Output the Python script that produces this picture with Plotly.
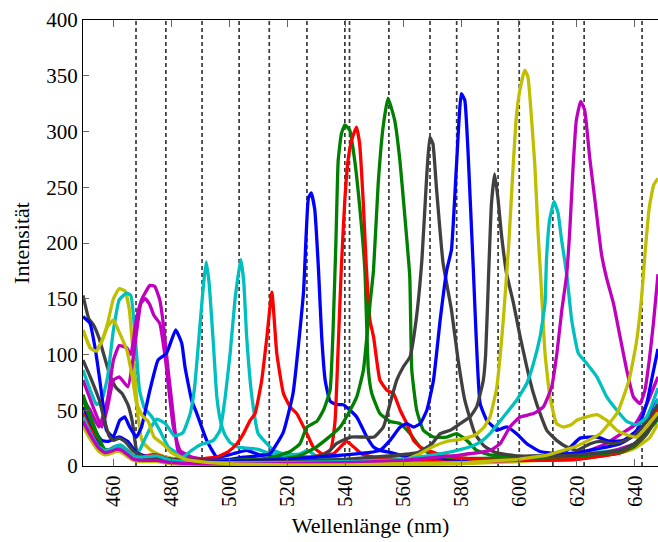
import plotly.graph_objects as go

# ---------------- data ----------------
dash_wavelengths = [467.8, 478.1, 490.6, 503.4, 513.8, 526.8, 539.9, 541.5, 555.1,
                    569.3, 578.5, 592.8, 600.1, 611.7, 622.5, 642.5]

x_ticks = [460, 480, 500, 520, 540, 560, 580, 600, 620, 640]
y_ticks = [0, 50, 100, 150, 200, 250, 300, 350, 400]

gray_450_x = [449.5, 451.5, 453, 455, 457, 459, 461, 463, 465, 466.5, 468, 470, 473, 476, 480, 490, 500, 520, 540, 560, 580, 600, 620, 630, 640, 644, 648]
gray_450_y = [153, 132, 127, 115, 97, 80, 70, 65, 55, 40, 14, 8, 9, 9, 5, 4, 3, 3, 3, 4, 5, 6, 9, 12, 18, 28, 45]

yellow_462_x = [449.5, 452, 454, 456, 458, 460, 462, 464, 465.5, 467, 468.5, 470, 473, 476, 480, 485, 490, 500, 520, 540, 560, 580, 600, 620, 635, 640, 645, 648]
yellow_462_y = [122, 106, 103, 112, 128, 150, 159, 157, 140, 95, 45, 22, 14, 10, 7, 5, 3, 2, 1, 1, 1, 2, 4, 7, 12, 16, 25, 38]

cyan_465_x = [449.5, 452, 454.2, 456, 458, 460, 462, 464.5, 466, 467.8, 469, 470.7, 473, 476, 479, 483, 490, 500, 520, 540, 560, 580, 600, 620, 635, 640, 644, 648]
cyan_465_y = [86, 68, 55, 59, 80, 122, 149, 155, 153, 107, 68, 52, 45, 32, 17, 10, 6, 5, 4, 4, 4, 5, 7, 10, 15, 20, 30, 50]

magenta_471_x = [449.5, 453, 456, 458, 460, 462, 465, 467, 469.5, 471, 472.5, 474, 476, 478, 480.7, 483, 487, 495, 520, 560, 600, 620, 630, 640, 644, 648]
magenta_471_y = [77, 53, 35, 53, 77, 80, 71, 100, 146, 150, 145, 135, 128, 95, 35, 14, 8, 5, 3, 3, 5, 8, 12, 20, 32, 55]

magenta_473_x = [449.5, 452, 455, 458, 460, 462, 464.6, 466, 467.9, 469.7, 472.6, 474.3, 476, 477.2, 478.9, 480.6, 482.3, 485, 490, 500, 520, 560, 600, 620, 630, 636, 640, 644, 648]
magenta_473_y = [60, 50, 35, 60, 95, 108, 106, 100, 131, 149, 162, 161, 149, 128, 86, 47, 14, 9, 6, 4, 3, 3, 6, 10, 20, 30, 37, 55, 80]

blue_481_x = [449.5, 451.9, 453.6, 455.3, 456.5, 457.6, 459.9, 462.2, 463.9, 465.6, 467.9, 469.7, 472.6, 475.4, 478.3, 481.5, 483.6, 484.7, 487, 488.8, 492.2, 495.7, 501.3, 506, 510.6, 514, 518, 525, 540, 560, 580, 600, 620, 635, 640, 644, 648]
blue_481_y = [134, 128, 107, 77, 53, 32, 26, 41, 44, 35, 26, 35, 68, 95, 101, 122, 110, 89, 59, 47, 23, 8, 11, 14, 10, 10, 8, 6, 5, 5, 6, 8, 12, 20, 28, 40, 60]

cyan_492_x = [449.5, 453, 455.5, 458, 460, 462.5, 465, 467, 469, 471, 473, 475, 478, 481, 484, 486.5, 488, 490, 491, 492, 493, 494.5, 495.7, 497, 498.5, 500.3, 503, 506, 510, 513, 520, 530, 540, 560, 580, 600, 620, 635, 640, 644, 648]
cyan_492_y = [45, 28, 16, 14, 17, 19, 14, 9, 14, 25, 35, 42, 38, 27, 30, 47, 70, 130, 160, 183, 165, 110, 62, 40, 28, 21, 17, 16, 15, 12, 9, 8, 6, 5, 5, 6, 9, 14, 20, 30, 55]

cyan_504_x = [449.5, 453, 456, 459, 462, 465, 468, 472, 476, 480, 484, 487, 490, 492.5, 494.5, 496.8, 498.5, 500.3, 502, 503.2, 504, 505, 506, 507.8, 510, 513, 515.2, 520, 524.4, 527, 530, 535, 540, 560, 580, 600, 620, 635, 640, 644, 648]
cyan_504_y = [42, 25, 14, 15, 18, 12, 7, 9, 8, 6, 8, 14, 19, 21, 23, 32, 60, 101, 150, 173, 185, 165, 116, 62, 29, 20, 14, 10, 11, 14, 9, 6, 5, 5, 5, 6, 9, 14, 20, 32, 60]

red_515_x = [449.5, 452, 455, 457, 459, 461, 463, 465, 467, 470, 473, 475, 478, 480, 485, 490, 492.2, 495.7, 499.7, 502.6, 504.9, 507.2, 508.9, 511.2, 513, 514.7, 516.4, 518.7, 521, 523.3, 526.8, 529, 532.5, 535.9, 538, 540.4, 543, 545.6, 550, 560, 580, 600, 620, 635, 640, 644, 648]
red_515_y = [48, 35, 22, 14, 15, 17, 16, 12, 8, 8, 10, 10, 6, 5, 5, 6, 7, 8, 13, 20, 29, 41, 47, 77, 116, 156, 101, 65, 53, 47, 29, 17, 10, 11, 16, 22, 17, 11, 8, 6, 5, 5, 6, 12, 18, 30, 55]

blue_528_x = [449.5, 452, 454, 456, 458, 460, 462, 465, 468, 472, 476, 480, 490, 500, 505, 510, 514, 518.6, 522, 525.6, 527.3, 528.3, 529.5, 530.8, 531.9, 533.1, 534.8, 537.1, 539.4, 541.7, 544, 547.5, 549.8, 552, 556, 560, 570, 580, 600, 620, 635, 640, 644, 648]
blue_528_y = [53, 40, 30, 23, 22, 24, 26, 22, 12, 8, 8, 6, 5, 6, 8, 9, 11, 30, 65, 155, 240, 245, 230, 176, 116, 77, 58, 55, 55, 50, 44, 26, 17, 14, 12, 9, 7, 6, 6, 9, 14, 20, 30, 50]

green_540_x = [449.5, 452, 455, 457, 459, 461, 463, 465, 467, 470, 473, 476, 480, 490, 500, 510, 515, 521, 524.4, 526.8, 530.2, 532.5, 534.8, 535.8, 536.8, 537.6, 538.7, 539.9, 541.6, 543.3, 545, 546.8, 548, 549.2, 552, 555.5, 559, 562.4, 565.9, 569.3, 575, 580, 600, 620, 635, 640, 644, 648]
green_540_y = [64, 45, 25, 15, 14, 16, 15, 10, 7, 6, 8, 8, 4, 4, 5, 6, 8, 13, 20, 35, 40, 50, 68, 120, 200, 274, 298, 306, 301, 274, 233, 176, 86, 65, 47, 40, 38, 29, 17, 11, 8, 7, 7, 8, 12, 18, 30, 45]

red_544_x = [449.5, 452, 455, 457, 459, 461, 463, 465, 467, 470, 473, 476, 480, 490, 500, 510, 520, 528, 532, 535, 536.5, 537.5, 538.7, 539.9, 541, 542.2, 543.9, 545, 546.2, 547.3, 548.6, 549.8, 552, 554.4, 556.7, 559, 561.3, 563.6, 565.9, 568.2, 575, 585, 600, 620, 635, 640, 644, 648]
red_544_y = [47, 33, 20, 13, 14, 16, 15, 11, 7, 7, 9, 9, 5, 4, 4, 5, 6, 8, 10, 15, 40, 100, 179, 239, 274, 292, 304, 289, 239, 179, 130, 116, 77, 68, 65, 50, 38, 23, 17, 14, 9, 6, 5, 6, 12, 20, 32, 50]

green_555_x = [449.5, 452, 455, 457, 459, 461, 463, 465, 467, 470, 473, 476, 480, 490, 500, 510, 520, 525, 530, 534, 538.3, 541.7, 544, 546.3, 548.6, 549.8, 551.4, 553.1, 554.8, 557.1, 558.9, 560.6, 562.3, 563, 564.7, 567, 570.5, 575.1, 578.5, 582, 585.4, 590, 600, 620, 635, 640, 644, 648]
green_555_y = [60, 42, 24, 14, 13, 15, 14, 9, 6, 6, 7, 7, 4, 3, 4, 5, 7, 10, 17, 25, 35, 50, 62, 86, 146, 176, 253, 304, 330, 310, 274, 224, 170, 86, 50, 32, 26, 26, 29, 23, 14, 10, 8, 9, 13, 20, 30, 42]

gray_569_x = [449.5, 452, 455, 457, 458.5, 460, 462, 464, 467, 470, 475, 480, 490, 500, 510, 520, 530, 534, 537, 540, 542, 546, 550, 553.2, 555.5, 557.8, 560.1, 562.4, 564.5, 566.5, 568, 569.2, 570.3, 571.5, 573.8, 576.7, 579, 581.3, 584.8, 588, 592, 600, 620, 635, 640, 644, 648]
gray_569_y = [95, 80, 60, 40, 27, 23, 25, 22, 13, 9, 7, 6, 5, 5, 5, 6, 8, 12, 20, 24, 26, 26, 26, 35, 56, 77, 89, 98, 131, 185, 253, 295, 289, 250, 182, 140, 95, 59, 29, 18, 12, 9, 10, 14, 20, 30, 45]

blue_580_x = [449.5, 452, 455, 457, 459, 461, 463, 465, 467, 470, 475, 480, 490, 500, 510, 520, 530, 540, 548, 552, 555.5, 559, 561.3, 563.6, 565.9, 568.2, 570.5, 572.8, 575.1, 576.7, 578.4, 580.1, 581.3, 582.4, 584.2, 586.6, 588.9, 591.2, 592.3, 595.8, 599.2, 602.7, 607.3, 611.9, 616.5, 621.1, 626.9, 631.5, 636, 640.7, 644.1, 646, 648]
blue_580_y = [40, 30, 18, 12, 13, 15, 14, 10, 7, 6, 7, 4, 3, 4, 5, 6, 8, 10, 12, 14, 23, 35, 38, 35, 38, 50, 77, 131, 176, 194, 268, 334, 328, 283, 179, 56, 41, 35, 32, 35, 29, 20, 13, 11.5, 14, 25, 26, 22, 23, 32, 56, 80, 105]

gray_592_x = [449.5, 452, 455, 457, 459, 461, 463, 465, 467, 470, 475, 480, 490, 500, 520, 540, 555, 565, 570, 572.8, 576.2, 579.7, 583.1, 585.4, 587.7, 588.5, 589.5, 590.5, 591.6, 592.8, 593.9, 595.7, 598.1, 600.4, 602.7, 605, 607.3, 609.6, 613, 616.5, 620, 624.6, 628, 632.6, 636, 640, 644, 648]
gray_592_y = [38, 26, 15, 12, 13, 15, 14, 9, 6, 6, 6, 4, 3, 3, 4, 6, 9, 12, 20, 29, 32, 38, 44, 53, 77, 100, 170, 235, 262, 239, 209, 173, 146, 116, 89, 65, 47, 32, 23, 17, 14, 20, 22, 20, 22, 28, 40, 55]

yellow_602_x = [449.5, 452, 455, 457, 459, 461, 463, 465, 467, 470, 475, 480, 490, 500, 520, 540, 560, 565, 570, 575, 580, 585, 588, 590, 592.3, 594.6, 596.5, 598, 599.1, 600.3, 602, 603.1, 604.3, 605.5, 606.6, 607.5, 609, 610.7, 613, 615.3, 618, 620, 623.4, 626.9, 630.3, 633.8, 637.2, 640.7, 644, 648]
yellow_602_y = [36, 24, 13, 10, 11, 13, 12, 8, 5, 4, 4, 2, 1, 1, 1, 2, 5, 10, 17, 22, 24, 28, 35, 44, 70, 131, 200, 269, 313, 337, 355, 349, 313, 269, 209, 170, 101, 62, 38, 35, 37, 41, 44, 46, 41, 32, 28, 26, 35, 48]

cyan_612_x = [449.5, 452, 455, 457, 459, 461, 463, 465, 467, 470, 475, 480, 490, 500, 520, 540, 560, 575, 580, 584, 587, 590, 594.6, 599.2, 602.7, 605, 607.3, 609, 609.5, 610.6, 612.1, 613.5, 614.7, 616.5, 618.2, 620.5, 623.4, 626.9, 630.3, 633.8, 637.2, 640.7, 644.1, 648]
cyan_612_y = [44, 30, 17, 14, 15, 17, 16, 12, 8, 8, 9, 5, 3, 3, 3, 4, 6, 12, 15, 18, 22, 29, 44, 59, 74, 92, 116, 146, 185, 221, 237, 227, 203, 172, 131, 101, 92, 80, 62, 50, 40, 37, 44, 70]

magenta_621_x = [449.5, 452, 455, 457, 459, 461, 463, 465, 467, 470, 475, 480, 490, 500, 520, 540, 560, 580, 590, 593.5, 596.9, 600.4, 605, 608.4, 611.3, 613.1, 614.8, 616.4, 617.5, 618.7, 619.8, 621.3, 622.7, 624.4, 626.2, 628.5, 630.3, 632.6, 634.9, 637.2, 639.5, 641.8, 643.5, 645, 646.5, 648]
magenta_621_y = [40, 28, 16, 12, 13, 15, 14, 10, 6, 5, 5, 3, 2, 2, 2, 3, 5, 10, 14, 20, 35, 44, 47, 53, 71, 101, 140, 170, 209, 269, 310, 327, 319, 277, 239, 190, 168, 146, 116, 86, 62, 56, 68, 95, 130, 172]

yellow_648_x = [449.5, 452, 454, 456, 458, 460, 462, 464.6, 466.5, 468, 470, 472, 474, 477, 480, 485, 490, 500, 520, 540, 560, 580, 600, 610, 620, 628, 634, 638, 640.5, 642.3, 643.5, 645, 646.5, 648]
yellow_648_y = [122, 106, 103, 112, 125, 131, 120, 104, 80, 56, 45, 40, 26, 20, 12, 6, 4, 2, 1, 1, 2, 3, 6, 10, 18, 29, 48, 77, 110, 150, 190, 232, 252, 258]

BLUE, GREEN, RED = "#0000ff", "#008000", "#ff0000"
CYAN, MAGENTA, YELLOW, GRAY = "#00bfbf", "#bf00bf", "#bfbf00", "#404040"

series = [
    (gray_450_x, gray_450_y, GRAY),
    (yellow_462_x, yellow_462_y, YELLOW),
    (cyan_465_x, cyan_465_y, CYAN),
    (magenta_471_x, magenta_471_y, MAGENTA),
    (magenta_473_x, magenta_473_y, MAGENTA),
    (blue_481_x, blue_481_y, BLUE),
    (cyan_492_x, cyan_492_y, CYAN),
    (cyan_504_x, cyan_504_y, CYAN),
    (red_515_x, red_515_y, RED),
    (blue_528_x, blue_528_y, BLUE),
    (green_540_x, green_540_y, GREEN),
    (red_544_x, red_544_y, RED),
    (green_555_x, green_555_y, GREEN),
    (gray_569_x, gray_569_y, GRAY),
    (blue_580_x, blue_580_y, BLUE),
    (gray_592_x, gray_592_y, GRAY),
    (yellow_602_x, yellow_602_y, YELLOW),
    (cyan_612_x, cyan_612_y, CYAN),
    (magenta_621_x, magenta_621_y, MAGENTA),
    (yellow_648_x, yellow_648_y, YELLOW),
]

FONT = "Liberation Serif"

fig = go.Figure()
for xs, ys, col in series:
    fig.add_trace(go.Scatter(x=xs, y=ys, mode="lines",
                             line=dict(color=col, width=3.3, shape="spline", smoothing=0.4),
                             showlegend=False, hoverinfo="skip"))

for wl in dash_wavelengths:
    fig.add_shape(type="line", xref="x", yref="y", x0=wl, x1=wl, y0=0, y1=400,
                  line=dict(color="#3a3a3a", width=1.7, dash="4px,3px"), layer="below")

fig.update_layout(
    width=658, height=542,
    margin=dict(l=83, r=0, t=20, b=76),
    paper_bgcolor="white", plot_bgcolor="white",
    font=dict(family=FONT, size=21, color="black"),
)
fig.update_xaxes(range=[449.5, 648.0], tickvals=x_ticks, ticktext=[str(v) for v in x_ticks],
                 tickangle=-90, ticks="inside", ticklen=7, tickcolor="#666666",
                 showline=True, linecolor="black", linewidth=1, mirror="ticks",
                 showgrid=False, zeroline=False,
                 title=dict(text="Wellenlänge (nm)", standoff=11, font=dict(size=22)))
fig.update_yaxes(range=[0, 400], tickvals=y_ticks, ticktext=[str(v) for v in y_ticks],
                 ticks="inside", ticklen=6, tickcolor="#666666",
                 showline=True, linecolor="black", linewidth=1, mirror=False,
                 showgrid=False, zeroline=False,
                 title=dict(text="Intensität", standoff=10, font=dict(size=22)))

fig.write_html("out.html")
